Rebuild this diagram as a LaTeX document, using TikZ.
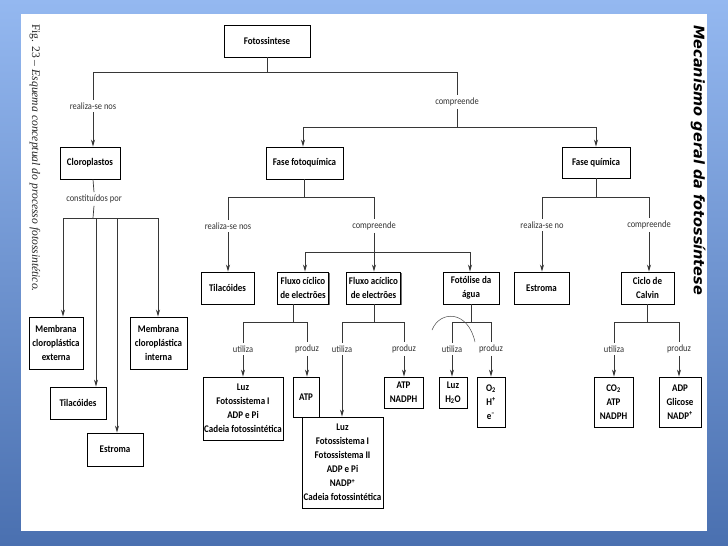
\documentclass[tikz,border=0pt]{standalone}
\usepackage{fontspec}
\setmainfont{Carlito}[FakeStretch=0.88]
\newfontfamily\capfont{Liberation Serif}
\newfontfamily\titlefont{DejaVu Sans}
\usetikzlibrary{arrows.meta,shadows}
\definecolor{bgtop}{RGB}{148,184,240}
\definecolor{bgbot}{RGB}{74,112,176}
\definecolor{linec}{RGB}{55,55,55}
\tikzset{
  box/.style={draw=black, line width=0.9pt, fill=white, align=center,
    font=\bfseries\fontsize{10.2}{14}\selectfont, inner sep=1pt,
    drop shadow={shadow xshift=1.3pt, shadow yshift=-1.3pt, fill=black!55, opacity=1}},
  lbl/.style={font=\fontsize{9.6}{11}\selectfont, text=black!80, inner sep=2.5pt},
  conn/.style={draw=linec, line width=0.7pt},
  arr/.style={conn, -{Stealth[length=7pt,width=4pt]}},
}
\begin{document}
\begin{tikzpicture}[x=1pt,y=-1pt]
\useasboundingbox (0,0) rectangle (728,546);
\shade[top color=bgtop, bottom color=bgbot] (0,0) rectangle (728,546);
\fill[white] (21,14) rectangle (707,531);

% side texts
\node[rotate=-90, anchor=west, inner sep=0pt, text=black!85, font=\capfont\fontsize{11.6}{13}\selectfont] (figcap) at (35,24) {Fig. 23 – \itshape Esquema conceptual do processo fotossintético.};
\node[rotate=-90, anchor=west, inner sep=0pt, font=\titlefont\bfseries\itshape\fontsize{14.5}{17}\selectfont] (title) at (698,25) {Mecanismo geral da fotossíntese};

% boxes
\node[box, minimum width=86, minimum height=32] (fot) at (267,41) {Fotossintese};
\node[box, minimum width=60, minimum height=32] (clo) at (90,163) {Cloroplastos};
\node[box, minimum width=77, minimum height=32] (ffq) at (304.5,163) {Fase fotoquímica};
\node[box, minimum width=68, minimum height=31] (fq) at (596,162.5) {Fase química};

\node[box, minimum width=54, minimum height=52] (mext) at (56,343) {Membrana\\cloroplástica\\externa};
\node[box, minimum width=57, minimum height=52] (mint) at (158.5,343) {Membrana\\cloroplástica\\interna};
\node[box, minimum width=56, minimum height=32] (tilL) at (78,403) {Tilacóides};
\node[box, minimum width=56, minimum height=33] (estL) at (115,449.5) {Estroma};

\node[box, minimum width=53, minimum height=32] (tilM) at (227.5,288) {Tilacóides};
\node[box, minimum width=51, minimum height=32] (fcic) at (303,288) {Fluxo cíclico\\de electrões};
\node[box, minimum width=54, minimum height=32] (facic) at (373.5,288) {Fluxo acíclico\\de electrões};
\node[box, minimum width=56, minimum height=32] (fag) at (471,288) {Fotólise da\\água};
\node[box, minimum width=55, minimum height=32] (estM) at (541.5,288) {Estroma};
\node[box, minimum width=53, minimum height=32] (calvin) at (647.5,288) {Ciclo de\\Calvin};

\node[box, minimum width=80, minimum height=63] (luz1) at (243,408.5) {Luz\\Fotossistema I\\ADP e Pi\\Cadeia fotossintética};
\node[box, minimum width=26, minimum height=40] (atp1) at (306,397) {ATP};
\node[box, minimum width=81, minimum height=91] (luz2) at (342.5,462.5) {Luz\\Fotossistema I\\Fotossistema II\\ADP e Pi\\NADP\textsuperscript{+}\\Cadeia fotossintética};
\node[box, minimum width=39, minimum height=31] (atp2) at (403.5,392.5) {ATP\\NADPH};
\node[box, minimum width=28, minimum height=31] (luz3) at (453,392.5) {Luz\\H\textsubscript{2}O};
\node[box, minimum width=28, minimum height=50] (o2) at (491,402) {O\textsubscript{2}\\H\textsuperscript{+}\\e\textsuperscript{–}};
\node[box, minimum width=39, minimum height=50] (co2) at (613.5,402) {CO\textsubscript{2}\\ATP\\NADPH};
\node[box, minimum width=42, minimum height=50] (adp) at (680,402) {ADP\\Glicose\\NADP\textsuperscript{+}};

% labels
\node[lbl] (l1) at (93,106) {realiza-se nos};
\node[lbl] (l2) at (457,102) {compreende};
\node[lbl] (l3) at (94,199) {constituídos por};
\node[lbl] (l4) at (228,226) {realiza-se nos};
\node[lbl] (l5) at (374,226) {compreende};
\node[lbl] (l6) at (542,225) {realiza-se no};
\node[lbl] (l7) at (649,225) {compreende};
\node[lbl] (u1) at (243,349) {utiliza};
\node[lbl] (p1) at (307,349) {produz};
\node[lbl] (u2) at (342,349) {utiliza};
\node[lbl] (p2) at (404,349) {produz};
\node[lbl] (u3) at (452,349) {utiliza};
\node[lbl] (p3) at (491,349) {produz};
\node[lbl] (u4) at (614,349) {utiliza};
\node[lbl] (p4) at (679,349) {produz};

% bar coordinates
\coordinate (b1L) at (93,72);   \coordinate (b1R) at (457,72);
\coordinate (b2L) at (303,127); \coordinate (b2M) at (457,127); \coordinate (b2R) at (596,127);
\coordinate (b3M) at (93,218);  \coordinate (b3a) at (63,218); \coordinate (b3b) at (96,218);
\coordinate (b3c) at (117,218); \coordinate (b3d) at (158,218);
\coordinate (b4L) at (228,197); \coordinate (b4M) at (304,197); \coordinate (b4R) at (374,197);
\coordinate (b5L) at (305,252); \coordinate (b5M) at (374,252); \coordinate (b5R) at (470,252);
\coordinate (b6L) at (542,197); \coordinate (b6M) at (596,197); \coordinate (b6R) at (649,197);
\coordinate (b7L) at (243,322); \coordinate (b7M) at (293,322); \coordinate (b7R) at (307,322);
\coordinate (b8L) at (342,322); \coordinate (b8M) at (374,322); \coordinate (b8R) at (404,322);
\coordinate (b9L) at (452,322); \coordinate (b9M) at (471,322); \coordinate (b9R) at (491,322);
\coordinate (b10L) at (614,322); \coordinate (b10M) at (647,322); \coordinate (b10R) at (679,322);

% top level
\draw[conn] (fot.south) -- (fot.south |- b1L);
\draw[conn] (b1L) -- (b1R);
\draw[conn] (b1L) -- (l1.north);
\draw[arr] (l1.south) -- (l1.south |- clo.north);
\draw[conn] (b1R) -- (l2.north);
\draw[conn] (l2.south) -- (b2M);
\draw[conn] (b2L) -- (b2R);
\draw[arr] (b2L) -- (b2L |- ffq.north);
\draw[arr] (b2R) -- (b2R |- fq.north);

% cloroplastos
\draw[conn] (b3M |- clo.south) -- (l3.north);
\draw[conn] (l3.south) -- (b3M);
\draw[conn] (b3a) -- (b3d);
\draw[arr] (b3a) -- (b3a |- mext.north);
\draw[arr] (b3b) -- (b3b |- tilL.north);
\draw[arr] (b3c) -- (b3c |- estL.north);
\draw[arr] (b3d) -- (b3d |- mint.north);

% fase fotoquimica
\draw[conn] (b4M |- ffq.south) -- (b4M);
\draw[conn] (b4L) -- (b4R);
\draw[conn] (b4L) -- (l4.north);
\draw[arr] (l4.south) -- (l4.south |- tilM.north);
\draw[conn] (b4R) -- (l5.north);
\draw[conn] (l5.south) -- (b5M);
\draw[conn] (b5L) -- (b5R);
\draw[arr] (b5L) -- (b5L |- fcic.north);
\draw[arr] (b5M) -- (b5M |- facic.north);
\draw[arr] (b5R) -- (b5R |- fag.north);

% fase quimica
\draw[conn] (fq.south) -- (b6M);
\draw[conn] (b6L) -- (b6R);
\draw[conn] (b6L) -- (l6.north);
\draw[arr] (l6.south) -- (l6.south |- estM.north);
\draw[conn] (b6R) -- (l7.north);
\draw[arr] (l7.south) -- (l7.south |- calvin.north);

% fluxo ciclico
\draw[conn] (b7M |- fcic.south) -- (b7M);
\draw[conn] (b7L) -- (b7R);
\draw[conn] (b7L) -- (u1.north);
\draw[conn] (b7R) -- (p1.north);
\draw[arr] (u1.south) -- (u1.south |- luz1.north);
\draw[arr] (p1.south) -- (p1.south |- atp1.north);

% fluxo aciclico
\draw[conn] (b8M |- facic.south) -- (b8M);
\draw[conn] (b8L) -- (b8R);
\draw[conn] (b8L) -- (u2.north);
\draw[conn] (b8R) -- (p2.north);
\draw[arr] (u2.south) -- (u2.south |- luz2.north);
\draw[arr] (p2.south) -- (p2.south |- atp2.north);

% fotolise
\draw[conn] (b9M |- fag.south) -- (b9M);
\draw[conn] (b9L) -- (b9R);
\draw[conn] (b9L) -- (u3.north);
\draw[conn] (b9R) -- (p3.north);
\draw[arr] (u3.south) -- (u3.south |- luz3.north);
\draw[arr] (p3.south) -- (p3.south |- o2.north);

% calvin
\draw[conn] (b10M |- calvin.south) -- (b10M);
\draw[conn] (b10L) -- (b10R);
\draw[conn] (b10L) -- (u4.north);
\draw[conn] (b10R) -- (p4.north);
\draw[arr] (u4.south) -- (u4.south |- co2.north);
\draw[arr] (p4.south) -- (p4.south |- adp.north);

% faint stray arc
\draw[black!70, line width=0.5pt] (432,330) .. controls (440,310) and (468,310) .. (475,342);
\end{tikzpicture}
\end{document}
